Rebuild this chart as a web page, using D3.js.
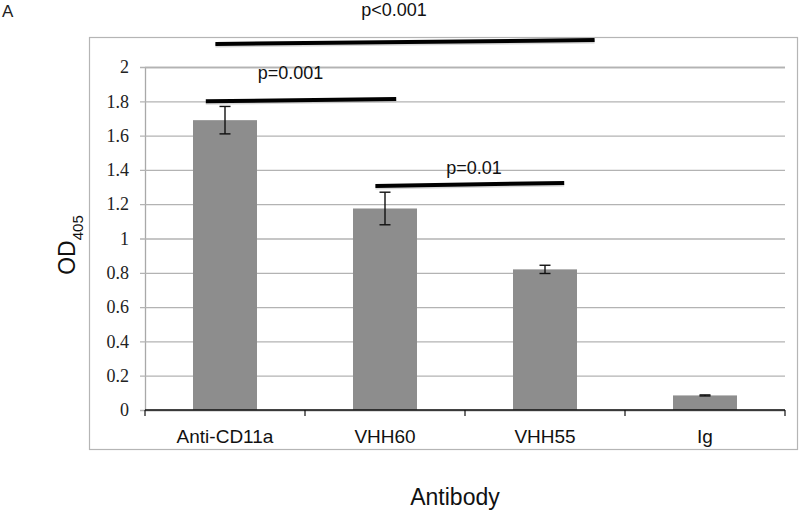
<!DOCTYPE html>
<html>
<head>
<meta charset="utf-8">
<script src="https://cdn.jsdelivr.net/npm/d3@7"></script>
<style>
  body { margin: 0; background: #fff; }
  svg { display: block; }
  .ytick { font-family: "Liberation Serif", "Times New Roman", serif; font-size: 18px; fill: #222; }
</style>
</head>
<body>
<svg id="chart" width="800" height="512"></svg>
<script>
// data
const categories = ["Anti-CD11a", "VHH60", "VHH55", "Ig"];
const meanOD = [1.69, 1.175, 0.82, 0.085];
const errOD = [0.08, 0.095, 0.024, 0.003];
const yTicks = [0, 0.2, 0.4, 0.6, 0.8, 1, 1.2, 1.4, 1.6, 1.8, 2];

// significance brackets, x in category units (0..4), y in OD units
const sigLabels = ["p<0.001", "p=0.001", "p=0.01"];
const sigX0 = [0.44, 0.38, 1.44];
const sigX1 = [2.81, 1.57, 2.62];
const sigY0 = [2.134, 1.80, 1.306];
const sigY1 = [2.157, 1.813, 1.324];
const sigTextX = [1.556, 0.91, 2.056];
const sigTextY = [2.30, 1.93, 1.376];

const svg = d3.select("#chart");
const plot = { left: 145, right: 785, top: 67, bottom: 410 };

const x = d3.scaleBand()
  .domain(categories)
  .range([plot.left, plot.right])
  .paddingInner(0.6)
  .paddingOuter(0.3);

const xc = d3.scaleLinear().domain([0, 4]).range([plot.left, plot.right]);

const y = d3.scaleLinear().domain([0, 2]).range([plot.bottom, plot.top]);

// outer frame
svg.append("rect")
  .attr("x", 89.5).attr("y", 37.5)
  .attr("width", 708).attr("height", 412)
  .attr("fill", "none")
  .attr("stroke", "#b5b5b5")
  .attr("stroke-width", 1.2);

// panel letter
svg.append("text")
  .attr("x", 2).attr("y", 17)
  .attr("font-family", "Liberation Sans, Arial, sans-serif")
  .attr("font-size", 17)
  .attr("fill", "#222")
  .text("A");

// gridlines + y axis
const yAxis = svg.append("g")
  .attr("transform", `translate(${plot.left},0)`)
  .call(d3.axisLeft(y).tickValues(yTicks).tickSize(-(plot.right - plot.left)).tickPadding(16)
    .tickFormat(d => d3.format("")(d)));
yAxis.select(".domain").attr("stroke", "#a9a9a9").attr("stroke-width", 1.3);
yAxis.selectAll(".tick line")
  .attr("stroke", "#b3b3b3").attr("stroke-width", 1.3)
  .attr("x1", -5);
yAxis.selectAll(".tick text")
  .attr("class", "ytick")
  .attr("fill", null);

// bars
svg.append("g").selectAll("rect.bar")
  .data(categories)
  .join("rect")
  .attr("class", "bar")
  .attr("x", d => x(d))
  .attr("width", x.bandwidth())
  .attr("y", (d, i) => y(meanOD[i]))
  .attr("height", (d, i) => y(0) - y(meanOD[i]))
  .attr("fill", "#8d8d8d");

// error bars
const eb = svg.append("g").attr("stroke", "#111").attr("stroke-width", 1.4);
categories.forEach((c, i) => {
  const cx = x(c) + x.bandwidth() / 2;
  const top = y(meanOD[i] + errOD[i]);
  const bot = y(meanOD[i] - errOD[i]);
  eb.append("line").attr("x1", cx).attr("x2", cx).attr("y1", top).attr("y2", bot);
  eb.append("line").attr("x1", cx - 5.5).attr("x2", cx + 5.5).attr("y1", top).attr("y2", top);
  eb.append("line").attr("x1", cx - 5.5).attr("x2", cx + 5.5).attr("y1", bot).attr("y2", bot);
});

// x axis
const xTickPos = d3.range(0, 5);
const xAxis = svg.append("g");
xAxis.append("line")
  .attr("x1", plot.left).attr("x2", plot.right)
  .attr("y1", y(0)).attr("y2", y(0))
  .attr("stroke", "#111").attr("stroke-width", 1.4);
xAxis.selectAll("line.xt")
  .data(xTickPos)
  .join("line")
  .attr("class", "xt")
  .attr("x1", d => xc(d)).attr("x2", d => xc(d))
  .attr("y1", y(0)).attr("y2", y(0) + 6)
  .attr("stroke", "#111").attr("stroke-width", 1.2);
xAxis.selectAll("text")
  .data(categories)
  .join("text")
  .attr("x", d => x(d) + x.bandwidth() / 2)
  .attr("y", 443)
  .attr("text-anchor", "middle")
  .attr("font-family", "Liberation Sans, Arial, sans-serif")
  .attr("font-size", 19)
  .attr("fill", "#111")
  .text(d => d);

// axis titles
svg.append("text")
  .attr("x", 455).attr("y", 505)
  .attr("text-anchor", "middle")
  .attr("font-family", "Liberation Sans, Arial, sans-serif")
  .attr("font-size", 23)
  .attr("fill", "#111")
  .text("Antibody");

const yt = svg.append("text")
  .attr("transform", "translate(75,245) rotate(-90)")
  .attr("text-anchor", "middle")
  .attr("font-family", "Liberation Sans, Arial, sans-serif")
  .attr("fill", "#111");
yt.append("tspan").attr("font-size", 23).text("OD");
yt.append("tspan").attr("font-size", 15).attr("dy", 8).text("405");

// significance lines
const sig = svg.append("g");
sigLabels.forEach((lab, i) => {
  sig.append("line")
    .attr("x1", xc(sigX0[i])).attr("x2", xc(sigX1[i]))
    .attr("y1", y(sigY0[i]) + 1.5).attr("y2", y(sigY1[i]) + 1.5)
    .attr("stroke", "#bbb").attr("stroke-width", 4).attr("stroke-opacity", 0.6);
  sig.append("line")
    .attr("x1", xc(sigX0[i])).attr("x2", xc(sigX1[i]))
    .attr("y1", y(sigY0[i])).attr("y2", y(sigY1[i]))
    .attr("stroke", "#000").attr("stroke-width", 4);
  sig.append("text")
    .attr("x", xc(sigTextX[i])).attr("y", y(sigTextY[i]))
    .attr("text-anchor", "middle")
    .attr("font-family", "Liberation Sans, Arial, sans-serif")
    .attr("font-size", 18)
    .attr("fill", "#111")
    .text(lab);
});
</script>
</body>
</html>
